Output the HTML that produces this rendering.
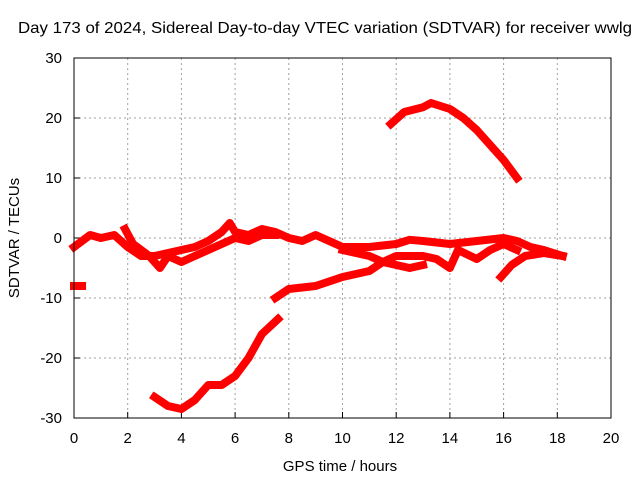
<!DOCTYPE html>
<html><head><meta charset="utf-8"><style>
body{margin:0;background:#fff;}
svg text{font-family:"Liberation Sans",sans-serif;font-size:15px;fill:#000;}
</style></head><body>
<svg id="chart" width="640" height="480">
<rect width="640" height="480" fill="#fff"/>
<text x="18" y="33" textLength="614" lengthAdjust="spacingAndGlyphs" style="font-size:16px">Day 173 of 2024, Sidereal Day-to-day VTEC variation (SDTVAR) for receiver wwlg</text>
<g id="grid"></g>
<g id="axes"></g>
<g id="series"></g>
<rect x="74" y="58" width="537" height="360" fill="none" stroke="#000"/>
<text x="340" y="471" text-anchor="middle">GPS time / hours</text>
<text transform="translate(19,238) rotate(-90)" text-anchor="middle">SDTVAR / TECUs</text>
</svg>
<script>
const xTicks=[0,2,4,6,8,10,12,14,16,18,20];
const yTicks=[-30,-20,-10,0,10,20,30];
const traceMain=[[0,-1.5],[0.3,-0.5],[0.6,0.5],[1,0],[1.5,0.5],[2,-1.5],[2.5,-3],[3,-3],[3.5,-2.5],[4,-2],[4.5,-1.5],[5,-0.5],[5.5,1],[5.8,2.5],[6,1],[6.5,0.5],[7,1.5],[7.5,1],[8,0],[8.5,-0.5],[9,0.5],[9.5,-0.5],[10,-1.5],[11,-1.5],[12,-1],[12.5,-0.3],[13,-0.5],[14,-1],[15,-0.5],[16,0],[16.5,-0.5],[17,-1.5],[17.5,-2],[18.2,-3]];
const traceLower=[[1.9,1.5],[2.2,-1],[2.8,-3],[3.2,-5],[3.5,-3],[4,-4],[4.5,-3],[5,-2],[5.5,-1],[6,0],[6.5,-0.5],[7,0.5],[7.5,0.5]];
const traceShort=[[0,-8],[0.3,-8]];
const traceRise=[[7.5,-10],[8,-8.5],[9,-8],[10,-6.5],[11,-5.5],[11.5,-4],[12,-4.5],[12.5,-5],[13,-4.5]];
const traceHigh=[[11.8,19],[12.3,21],[13,21.8],[13.3,22.5],[14,21.5],[14.5,20],[15,18],[15.5,15.5],[16,13],[16.5,10]];
const traceLow=[[3,-26.5],[3.5,-28],[4,-28.5],[4.5,-27],[5,-24.5],[5.5,-24.5],[6,-23],[6.5,-20],[7,-16],[7.6,-13.5]];
const traceLate=[[15.9,-6.5],[16.3,-4.5],[16.8,-3],[17.5,-2.5],[18.2,-3]];
const traceLoops=[[10,-2],[11,-3],[11.5,-4],[12,-3],[13,-3],[13.5,-3.5],[14,-5],[14.3,-2],[15,-3.5],[15.5,-2],[16,-1],[16.5,-2]];
const traces=[traceMain,traceLower,traceShort,traceRise,traceHigh,traceLow,traceLate,traceLoops];
const NS="http://www.w3.org/2000/svg";
const X=h=>74+h*537/20, Y=v=>238-v*6;
function mk(t,a,p){const e=document.createElementNS(NS,t);for(const k in a)e.setAttribute(k,a[k]);p.appendChild(e);return e;}
const grid=document.getElementById('grid'),axes=document.getElementById('axes'),ser=document.getElementById('series');
xTicks.forEach(t=>{
 if(t>0&&t<20){const l=mk('line',{x1:X(t),x2:X(t),y1:58,y2:418,stroke:'#a0a0a0','stroke-dasharray':'2,3'},grid);
 
 }
 const tk=mk('line',{x1:X(t),x2:X(t),y1:418,y2:412,stroke:'#000'},axes);
 
 
 const tx=mk('text',{x:X(t),y:443,'text-anchor':'middle'},axes);tx.textContent=t;
 
 
});
yTicks.forEach(t=>{
 if(t>-30&&t<30){const l=mk('line',{x1:74,x2:611,y1:Y(t),y2:Y(t),stroke:'#a0a0a0','stroke-dasharray':'2,3'},grid);
 
 }
 const tk=mk('line',{x1:74,x2:80,y1:Y(t),y2:Y(t),stroke:'#000'},axes);
 
 
 const tx=mk('text',{x:62,y:Y(t)+5,'text-anchor':'end'},axes);tx.textContent=t;
 
 
});
traces.forEach(tr=>{
 const p=mk('polyline',{points:tr.map(d=>X(d[0])+','+Y(d[1])).join(' '),fill:'none',stroke:'#ff0000','stroke-width':8,'stroke-linejoin':'round','stroke-linecap':'square'},ser);
 
 
});
</script>
</body></html>
